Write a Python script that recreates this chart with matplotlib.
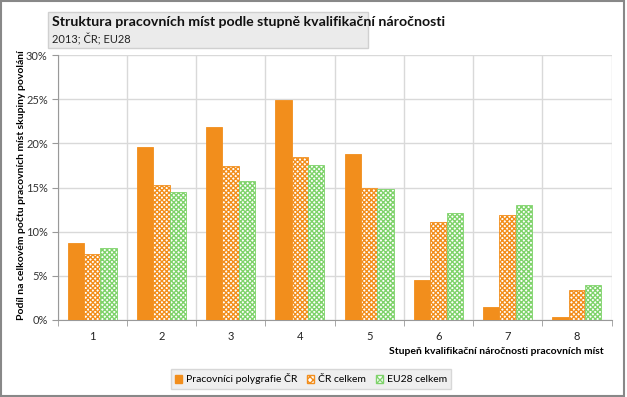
import numpy as np
import matplotlib
matplotlib.use("Agg")
from matplotlib import pyplot as plt
from matplotlib.patches import Rectangle, Patch

plt.rcParams['font.family'] = ['Lato', 'DejaVu Sans']
plt.rcParams['hatch.linewidth'] = 1.0

categories = ['1', '2', '3', '4', '5', '6', '7', '8']
polygrafie = [8.7, 19.6, 21.8, 24.9, 18.8, 4.5, 1.5, 0.3]
cr_celkem = [7.5, 15.3, 17.4, 18.5, 15.0, 11.1, 11.9, 3.4]
eu28_celkem = [8.1, 14.5, 15.7, 17.6, 14.8, 12.1, 13.0, 4.0]
series_names = ['Pracovníci polygrafie ČR', 'ČR celkem', 'EU28 celkem']

orange = '#f28e1c'
green = '#7fd36b'

fig = plt.figure(figsize=(6.27, 3.97), dpi=100, facecolor='w')
ax = fig.add_axes([57.5 / 627, 1 - 320 / 397, 554 / 627, 265 / 397])

x = np.arange(len(categories))
w = 0.235
ax.bar(x - w, polygrafie, w, color=orange, edgecolor=orange, linewidth=0.6, zorder=3)
ax.bar(x, cr_celkem, w, color='white', edgecolor=orange, hatch='xxxxxxx', linewidth=0.6, zorder=3)
ax.bar(x + w, eu28_celkem, w, color='white', edgecolor=green, hatch='xxxxxxx', linewidth=0.6, zorder=3)

ax.set_xlim(-0.5, len(categories) - 0.5)
ax.set_ylim(0, 30)
ax.set_yticks(range(0, 31, 5))
ax.set_yticklabels(['%d%%' % v for v in range(0, 31, 5)], fontsize=8, color='#333333')
ax.set_xticks(x)
ax.set_xticklabels(categories, fontsize=8, color='#222222')
ax.set_xticks(np.arange(-0.5, len(categories) + 0.5, 1), minor=True)
ax.tick_params(axis='x', which='major', length=0, pad=8)
ax.tick_params(axis='x', which='minor', length=4, color='#999999')
ax.tick_params(axis='y', length=4, color='#999999', pad=3)

ax.grid(True, axis='y', color='#d9d9d9', linewidth=1, zorder=0)
ax.grid(True, axis='x', which='minor', color='#d9d9d9', linewidth=1, zorder=0)
for s in ['top', 'right']:
    ax.spines[s].set_visible(False)
ax.spines['left'].set_color('#999999')
ax.spines['bottom'].set_color('#999999')

fig.text(0.035, 1 - 185 / 397, 'Podíl na celkovém počtu pracovních míst skupiny povolání',
         rotation=90, ha='center', va='center', fontsize=7.5, fontweight='bold')
fig.text(604 / 627, 1 - 352 / 397, 'Stupeň kvalifikační náročnosti pracovních míst',
         ha='right', va='center', fontsize=7.5, fontweight='bold')

# title box
fig.patches.append(Rectangle((48 / 627, 1 - 48 / 397), 320 / 627, 36 / 397,
                             transform=fig.transFigure, facecolor='#ebebeb',
                             edgecolor='#d0d0d0', linewidth=1))
fig.text(52 / 627, 1 - 22 / 397, 'Struktura pracovních míst podle stupně kvalifikační náročnosti',
         ha='left', va='center', fontsize=10.2, fontweight='bold', color='#111111')
fig.text(52 / 627, 1 - 39 / 397, '2013; ČR; EU28', ha='left', va='center', fontsize=8, color='#222222')

handles = [Patch(facecolor=orange, edgecolor=orange),
           Patch(facecolor='white', edgecolor=orange, hatch='xxxxx'),
           Patch(facecolor='white', edgecolor=green, hatch='xxxxx')]
leg = fig.legend(handles, series_names, loc='center', bbox_to_anchor=(311 / 627, 1 - 379 / 397),
                 ncol=3, fontsize=7.5, frameon=True, fancybox=False, handlelength=0.7,
                 handleheight=0.7, handletextpad=0.4, columnspacing=0.9, borderpad=0.4)
leg.get_frame().set_facecolor('#ebebeb')
leg.get_frame().set_edgecolor('#d0d0d0')

# outer border
fig.patches.append(Rectangle((0.002, 0.003), 0.994, 0.994, transform=fig.transFigure,
                             fill=False, edgecolor='#888888', linewidth=1.5))

fig.savefig('out.png', dpi=100)
